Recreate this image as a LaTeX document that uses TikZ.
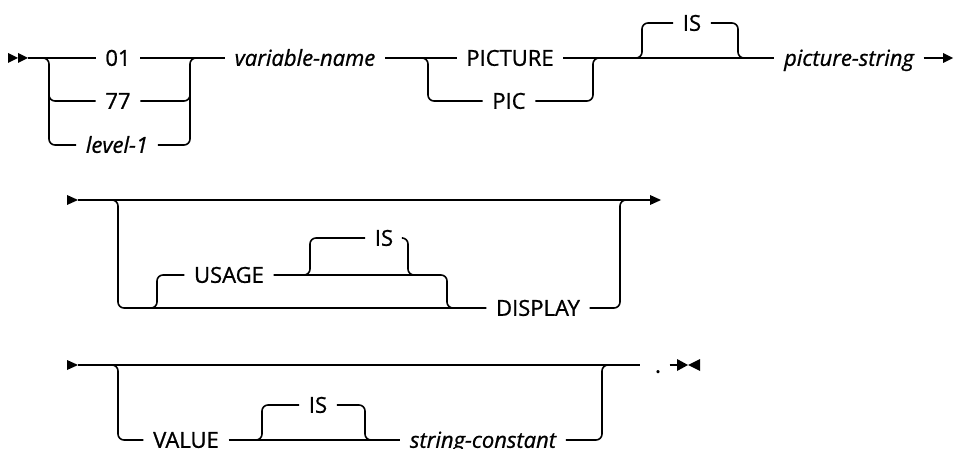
\documentclass[tikz,border=0pt]{standalone}
\usepackage{fontspec}
\setmainfont{Open Sans}[FakeBold=0.9]
\begin{document}
\begin{tikzpicture}[x=1pt,y=-1pt,line width=1.6pt,
  rc/.style={rounded corners=6pt},
  kw/.style={inner xsep=9pt,inner ysep=0pt,text height=15.6pt,text depth=0pt,font=\fontsize{22}{26}\selectfont},
  it/.style={kw,font=\fontsize{22}{26}\selectfont\itshape},
  tipfill/.style={fill=black,draw=none}]
\useasboundingbox (0,0) rectangle (954,449);
% ---------- row 1 ----------
\node[kw] (n01) at (118,58) {01};
\node[kw] (n77) at (118,101) {77};
\node[it] (lvl) at (117,145) {level-1};
\node[it] (var) at (305,58) {variable-name};
\node[kw] (pict) at (510,58) {PICTURE};
\node[kw] (pic) at (509,101) {PIC};
\node[kw] (isa) at (692,23) {IS};
\node[it] (pstr) at (849,58) {picture-string};
\coordinate (s1) at (28,58);
\coordinate (e1) at (944,58);
\coordinate (f1a) at (38,58);
\coordinate (f1b) at (49,145);
\coordinate (f1c) at (49,90);
\coordinate (f1d) at (190,58);
\coordinate (f1e) at (201,58);
\coordinate (f1f) at (190,90);
\coordinate (f2a) at (418,58);
\coordinate (f2b) at (428,101);
\coordinate (f2d) at (593,58);
\coordinate (f2e) at (605,58);
\coordinate (f3a) at (631,58);
\coordinate (f3b) at (642,23);
\coordinate (f3d) at (738,58);
\coordinate (f3e) at (750,58);
\fill[tipfill] (8,53) -- (18,58) -- (8,63) -- cycle;
\fill[tipfill] (18,53) -- (28,58) -- (18,63) -- cycle;
\draw (s1) -- (n01.west);
\draw (n01.east) -- (var.west);
\draw[rc] (f1a) -| (f1b) -- (lvl.west);
\draw[rc] (f1c) |- (n77.west);
\draw[rc] (lvl.east) -| (f1d) -- (f1e);
\draw[rc] (n77.east) -| (f1f);
\draw (var.east) -- (pict.west);
\draw[rc] (f2a) -| (f2b) -- (pic.west);
\draw[rc] (pic.east) -| (f2d) -- (f2e);
\draw (pict.east) -- (pstr.west);
\draw[rc] (f3a) -| (f3b) -- (isa.west);
\draw[rc] (isa.east) -| (f3d) -- (f3e);
\draw (pstr.east) -- (e1);
\fill[tipfill] (943,53) -- (953,58) -- (943,63) -- cycle;
% ---------- row 2 ----------
\node[kw] (disp) at (538,308) {DISPLAY};
\node[kw] (usage) at (229,275) {USAGE};
\node[kw] (isb) at (384,238) {IS};
\coordinate (s2) at (78,200);
\coordinate (e2) at (651,200);
\coordinate (g1a) at (106,200);
\coordinate (g1b) at (118,308);
\coordinate (g2a) at (146,308);
\coordinate (g2b) at (157,275);
\coordinate (g3a) at (300,275);
\coordinate (g3b) at (310,238);
\coordinate (g3d) at (408,275);
\coordinate (g3e) at (420,275);
\coordinate (g4b) at (447,308);
\coordinate (g4e) at (458,308);
\coordinate (g5d) at (620,200);
\coordinate (g5e) at (632,200);
\fill[tipfill] (67,195) -- (78,200) -- (67,205) -- cycle;
\draw (s2) -- (e2);
\fill[tipfill] (650,195) -- (661,200) -- (650,205) -- cycle;
\draw[rc] (g1a) -| (g1b) -- (disp.west);
\draw[rc] (g2a) -| (g2b) -- (usage.west);
\draw[rc] (g3a) -| (g3b) -- (isb.west);
\draw[rc] (isb.east) -| (g3d) -- (g3e);
\draw[rc] (usage.east) -| (g4b) -- (g4e);
\draw[rc] (disp.east) -| (g5d) -- (g5e);
% ---------- row 3 ----------
\node[kw] (value) at (186,440) {VALUE};
\node[kw] (isc) at (318,405) {IS};
\node[it] (sc) at (483,440) {string-constant};
\node[kw,inner xsep=2pt] (dot) at (658,365) {.};
\coordinate (s3) at (78,365);
\coordinate (e3) at (640,365);
\coordinate (h1a) at (106,365);
\coordinate (h1b) at (118,440);
\coordinate (h2a) at (252,440);
\coordinate (h2b) at (262,405);
\coordinate (h2d) at (365,440);
\coordinate (h2e) at (377,440);
\coordinate (h3d) at (602,365);
\coordinate (h3e) at (614,365);
\coordinate (t3) at (677,365);
\fill[tipfill] (67,360) -- (78,365) -- (67,370) -- cycle;
\draw (s3) -- (e3);
\draw[rc] (h1a) -| (h1b) -- (value.west);
\draw (value.east) -- (sc.west);
\draw[rc] (h2a) -| (h2b) -- (isc.west);
\draw[rc] (isc.east) -| (h2d) -- (h2e);
\draw[rc] (sc.east) -| (h3d) -- (h3e);
\draw (dot.east) ++(6,0) -- (t3);
\fill[tipfill] (677,359) -- (688,365) -- (677,371) -- cycle;
\fill[tipfill] (700,359) -- (688,365) -- (700,371) -- cycle;
\end{tikzpicture}
\end{document}
